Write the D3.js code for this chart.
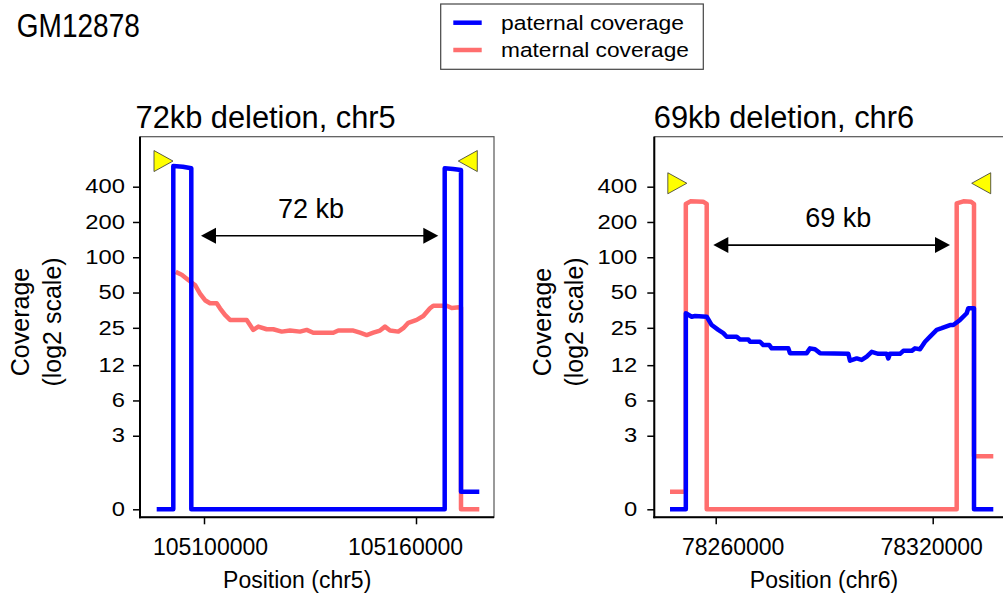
<!DOCTYPE html>
<html><head><meta charset="utf-8">
<script src="https://cdn.jsdelivr.net/npm/d3@7"></script>
<style>
body{margin:0;background:#fff}
svg{display:block}
text{font-family:"Liberation Sans",Arial,Helvetica,sans-serif;fill:#000}
</style>
</head><body>
<svg id="chart" width="1003" height="596"></svg>
<script>
// ---------------- data ----------------
const figureTitle = "GM12878";
const seriesNames = ["paternal coverage", "maternal coverage"];
const yTickValues = [0, 3, 6, 12, 25, 50, 100, 200, 400];
const yTickLabels = ["0", "3", "6", "12", "25", "50", "100", "200", "400"];

const chr5Title = "72kb deletion, chr5";
const chr5XLabel = "Position (chr5)";
const chr5Ticks = [105100000, 105160000];
const chr5Paternal = [
  [105086613,0],[105091311,0],[105091311,600],[105094000,592],[105096406,574],[105096406,0],
  [105168123,0],[105168123,574],[105170500,566],[105172736,555],[105172736,1],[105177914,1]
];
const chr5Maternal = [
  [105091991,75],[105093689,71],[105095557,64],[105097453,58],[105098868,49],[105100283,43],
  [105101698,40.5],[105103594,40.5],[105104528,36.7],[105105943,32.2],[105107359,29.2],
  [105112085,29.2],[105113953,24],[105115368,25.6],[105117745,24.3],[105119613,24.3],
  [105121991,23.2],[105124340,23.7],[105127170,23.2],[105129066,24],[105130934,22.7],
  [105136595,22.7],[105138010,23.7],[105142255,23.7],[105144151,22.7],[105146047,21.7],
  [105147915,22.7],[105149812,23.7],[105151227,25.6],[105152642,23.7],[105154991,23.2],
  [105156406,24.8],[105157821,27.6],[105160198,29.2],[105162066,31.5],[105163963,36.7],
  [105164897,38.6],[105168689,38.6],[105170104,36.9],[105172255,37.5],[105172736,37.5],
  [105172736,0],[105177914,0]
];
const chr5Breakpoints = [[105091226, 662, "right"], [105171970, 662, "left"]];
const chr5Span = {from: 105099151, to: 105166311, cov: 152.7, label: "72 kb", labelPos: 105130283, labelCov: 215};

const chr6Title = "69kb deletion, chr6";
const chr6XLabel = "Position (chr6)";
const chr6Ticks = [78260000, 78320000];
const chr6Paternal = [
  [78247364,0],[78251733,0],[78251733,33.3],[78253364,31.1],[78254276,31.5],[78257511,31.1],
  [78258894,26.4],[78260719,24],[78262101,22.5],[78263042,21],[78265807,21],[78266719,19.9],
  [78269014,19.9],[78269484,19],[78272249,19],[78273161,17.8],[78274820,17.8],[78275484,16.7],
  [78280074,16.7],[78280544,15.2],[78285162,15.2],[78286074,16.7],[78287456,16.4],[78288839,15.2],
  [78296664,15],[78297133,13.1],[78298987,13.7],[78300369,13.3],[78301752,14.2],[78303134,15.6],
  [78304959,15],[78307282,15],[78307724,13.7],[78308194,15],[78310959,15],[78311871,15.9],
  [78314194,15.9],[78315106,16.7],[78316489,16.4],[78317871,19],[78319254,21],[78321107,24],
  [78322489,24.8],[78324784,26.4],[78325696,26.4],[78327549,29.2],[78329402,33.3],[78329844,36.7],
  [78331420,36.7],[78331420,0],[78336756,0]
];
const chr6Maternal = [
  [78247364,1],[78251733,1],[78251733,285],[78253000,300],[78256500,298],[78257511,285],[78257511,0],
  [78326637,0],[78326637,288],[78328500,300],[78330600,298],[78331420,285],[78331420,2],[78336756,2]
];
const chr6Breakpoints = [[78252009, 428, "right"], [78330784, 428, "left"]];
const chr6Span = {from: 78259336, to: 78324784, cov: 127, label: "69 kb", labelPos: 78293899, labelCov: 180};

// ---------------- layout / style ----------------
const PATERNAL = "#0000ff", MATERNAL = "#ff6e6e";
const svg = d3.select("#chart");
const tr = v => v > 0 ? Math.log2(v) : -0.5;
const TOP = 136.7, BOTTOM = 517.3;
const y = d3.scaleLinear().domain([-0.727, 10.061]).range([BOTTOM, TOP]);

const panels = [
  {title: chr5Title, xlabel: chr5XLabel, ticks: chr5Ticks, pat: chr5Paternal, mat: chr5Maternal,
   bp: chr5Breakpoints, span: chr5Span,
   domain: [105081887, 105182075], range: [140, 494],
   tickDx: [6, -11], tickPad: 8, titleX: 135.5, titleY: 128.3,
   xlabX: 297.2, xlabY: 588.3, ylab1: 29, ylab2: 61, ylabY: 322},
  {title: chr6Title, xlabel: chr6XLabel, ticks: chr6Ticks, pat: chr6Paternal, mat: chr6Maternal,
   bp: chr6Breakpoints, span: chr6Span,
   domain: [78243019, 78340820], range: [654.3, 1008],
   tickDx: [17, -1.5], tickPad: 10, titleX: 653.8, titleY: 127.7,
   xlabX: 824, xlabY: 587.7, ylab1: 551, ylab2: 582.5, ylabY: 322}
];

panels.forEach(p => {
  const x = d3.scaleLinear().domain(p.domain).range(p.range);
  const g = svg.append("g");
  const x0 = p.range[0], x1 = p.range[1];

  g.append("rect").attr("x", x0).attr("y", TOP).attr("width", x1 - x0).attr("height", BOTTOM - TOP)
    .attr("fill", "none").attr("stroke", "#555").attr("stroke-width", 1.2);

  g.append("text").attr("x", p.titleX).attr("y", p.titleY).attr("font-size", 30.8).text(p.title);

  const ya = d3.axisLeft(y).tickValues(yTickValues.map(tr))
    .tickFormat((d, i) => yTickLabels[i]).tickSize(7).tickPadding(p.tickPad);
  const yg = g.append("g").attr("transform", `translate(${x0},0)`).call(ya);
  yg.select(".domain").remove();
  yg.selectAll(".tick line").attr("stroke", "#000").attr("stroke-width", 1.5);
  yg.selectAll(".tick text").attr("font-size", 19.5).attr("font-family", "Liberation Sans, Arial, sans-serif")
    .attr("fill", "#000").each(function() {
      const L = this.getComputedTextLength();
      d3.select(this).attr("textLength", L * 1.22).attr("lengthAdjust", "spacingAndGlyphs");
    });

  const xa = d3.axisBottom(x).tickValues(p.ticks).tickFormat(d3.format("d")).tickSize(7).tickPadding(0);
  const xg = g.append("g").attr("transform", `translate(0,${BOTTOM})`).call(xa);
  xg.select(".domain").remove();
  xg.selectAll(".tick line").attr("stroke", "#000").attr("stroke-width", 1.5);
  xg.selectAll(".tick text").attr("font-size", 23).attr("font-family", "Liberation Sans, Arial, sans-serif")
    .attr("fill", "#000").attr("y", 555 - BOTTOM).attr("dy", 0)
    .attr("dx", (d, i) => p.tickDx[i]);

  g.append("line").attr("x1", x0).attr("x2", x0).attr("y1", TOP).attr("y2", BOTTOM + 1)
    .attr("stroke", "#000").attr("stroke-width", 2);
  g.append("line").attr("x1", x0 - 1).attr("x2", x1).attr("y1", BOTTOM).attr("y2", BOTTOM)
    .attr("stroke", "#000").attr("stroke-width", 2);

  g.append("text").attr("x", p.xlabX).attr("y", p.xlabY).attr("text-anchor", "middle")
    .attr("font-size", 23).text(p.xlabel);
  g.append("text").attr("transform", `translate(${p.ylab1},${p.ylabY}) rotate(-90)`)
    .attr("text-anchor", "middle").attr("font-size", 25).text("Coverage");
  g.append("text").attr("transform", `translate(${p.ylab2},${p.ylabY}) rotate(-90)`)
    .attr("text-anchor", "middle").attr("font-size", 25).text("(log2 scale)");

  const line = d3.line().x(d => x(d[0])).y(d => y(tr(d[1])));
  g.append("path").datum(p.mat).attr("d", line).attr("fill", "none").attr("stroke", MATERNAL)
    .attr("stroke-width", 4.5).attr("stroke-linejoin", "round");
  g.append("path").datum(p.pat).attr("d", line).attr("fill", "none").attr("stroke", PATERNAL)
    .attr("stroke-width", 4.5).attr("stroke-linejoin", "round");

  p.bp.forEach(b => {
    const tx = x(b[0]), ty = y(tr(b[1]));
    const dir = b[2] === "right" ? -1 : 1;
    g.append("path").attr("d", `M${tx},${ty}L${tx + dir * 19},${ty - 10.5}L${tx + dir * 19},${ty + 10.5}Z`)
      .attr("fill", "#ffff00").attr("stroke", "#333").attr("stroke-width", 0.8);
  });

  const s = p.span, ax1 = x(s.from), ax2 = x(s.to), ay = y(tr(s.cov));
  g.append("line").attr("x1", ax1 + 10).attr("x2", ax2 - 10).attr("y1", ay).attr("y2", ay)
    .attr("stroke", "#000").attr("stroke-width", 1.6);
  g.append("path").attr("d", `M${ax1},${ay}L${ax1 + 15},${ay - 8}L${ax1 + 15},${ay + 8}Z`).attr("fill", "#000");
  g.append("path").attr("d", `M${ax2},${ay}L${ax2 - 15},${ay - 8}L${ax2 - 15},${ay + 8}Z`).attr("fill", "#000");
  g.append("text").attr("x", x(s.labelPos)).attr("y", y(tr(s.labelCov))).attr("text-anchor", "middle")
    .attr("font-size", 27).text(s.label);
});

svg.append("text").attr("x", 16.8).attr("y", 37.3).attr("font-size", 34)
  .attr("textLength", 123).attr("lengthAdjust", "spacingAndGlyphs").text(figureTitle);

const lg = svg.append("g");
lg.append("rect").attr("x", 440.7).attr("y", 4).attr("width", 262.6).attr("height", 65.3)
  .attr("fill", "#fff").attr("stroke", "#444").attr("stroke-width", 1.2);
const legendColors = [PATERNAL, MATERNAL];
const legendY = [22.7, 50];
const legendLen = [183, 188];
seriesNames.forEach((name, i) => {
  lg.append("line").attr("x1", 453.3).attr("x2", 481.7).attr("y1", legendY[i]).attr("y2", legendY[i])
    .attr("stroke", legendColors[i]).attr("stroke-width", 4.5);
  lg.append("text").attr("x", 501).attr("y", legendY[i] + 7).attr("font-size", 20.5)
    .attr("textLength", legendLen[i]).attr("lengthAdjust", "spacingAndGlyphs").text(name);
});
</script>
</body></html>
